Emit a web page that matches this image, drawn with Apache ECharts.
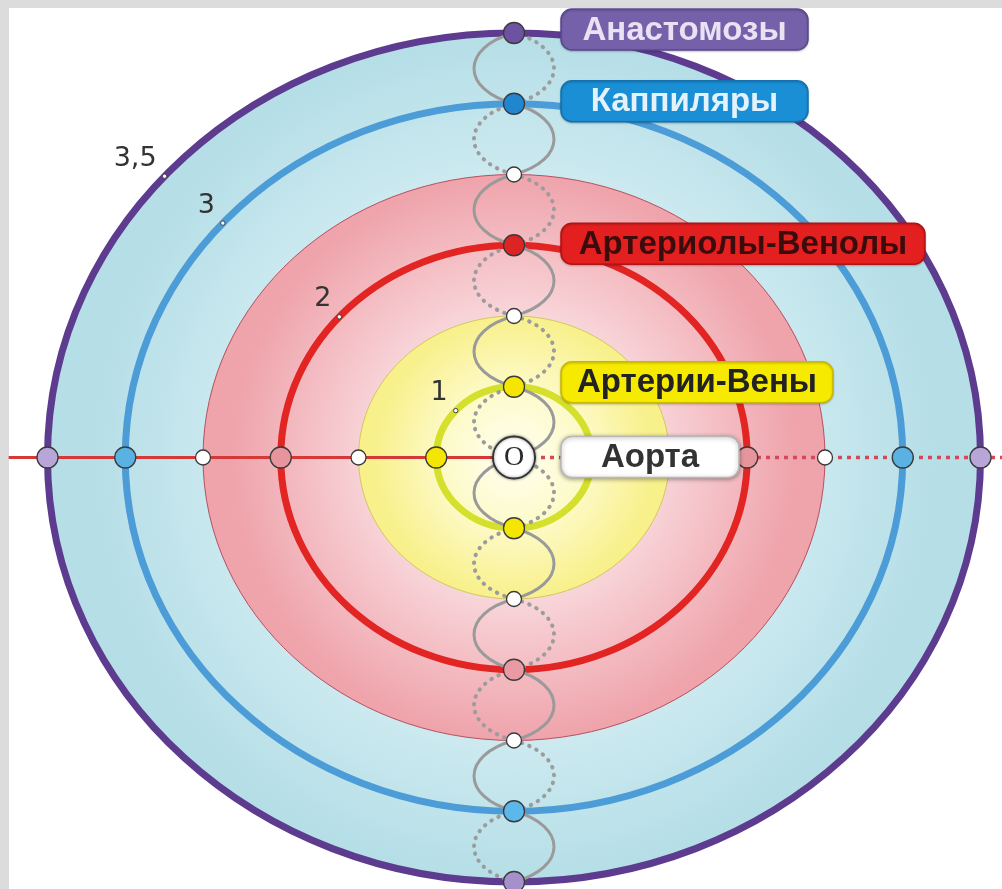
<!DOCTYPE html>
<html><head><meta charset="utf-8">
<script src="https://cdn.jsdelivr.net/npm/echarts@6/dist/echarts.min.js"></script>
<style>html,body{margin:0;padding:0;background:#fff}#c{width:1002px;height:889px}</style>
</head><body><div id="c"></div>
<script>
// ---- data ----
const levelNames  = ['Аорта', 'Артерии-Вены', 'Артериолы-Венолы', 'Каппиляры', 'Анастомозы'];
const levelRadius = [0, 0.5, 1.5, 2.5, 3.0];
const levelTicks  = ['', '1', '2', '3', '3,5'];
const zoneRadius  = [3.0, 2.0, 1.0];
const nodeSteps   = [3, 2.5, 2, 1.5, 1, 0.5, 0, -0.5, -1, -1.5, -2, -2.5, -3];
const axisNodesLeft  = [-3, -2.5, -2, -1.5, -1, -0.5];
const axisNodesRight = [1.5, 2, 2.5, 3];

// ---- styles ----
const zoneStyle = {
  '3': {stops: [[0, '#e4f5f7'], [0.66, '#cdeaf0'], [1, '#b5dee7']], stroke: '#9ccbd6', lw: 0.6},
  '2': {stops: [[0, '#fdf0f2'], [0.5, '#f8d6da'], [1, '#efa3ab']], stroke: '#b65060', lw: 1},
  '1': {stops: [[0, '#fffff2'], [0.5, '#fdfac8'], [1, '#f8f08a']], stroke: '#d2c860', lw: 1}
};
const ringColor = {'0.5': '#d4e02c', '1.5': '#e22422', '2.5': '#4b9cd7', '3': '#5d3b8f'};
const badgeStyle = [
  {w: 178, dy: -21, fill: '#ffffff', stroke: '#b8b8b8', text: '#333333', shadow: true},
  {w: 272, dy: -25, fill: '#f6ea00', stroke: '#c9b800', text: '#222222'},
  {w: 364, dy: -22, fill: '#e41f1f', stroke: '#b01515', text: '#3a0c0c'},
  {w: 247, dy: -23, fill: '#1a8fd6', stroke: '#1570b0', text: '#e4f3fb'},
  {w: 247, dy: -24, fill: '#7560aa', stroke: '#5a4890', text: '#e8e2f3'}
];
function nodeColor(v, where) {
  const a = Math.abs(v);
  if (a === 0.5) return '#f4e600';
  if (a === 1 || a === 2) return '#ffffff';
  const top = {'1.5': '#dd2424', '2.5': '#1f86cf', '3': '#6e52a2'};
  const bot = {'1.5': '#e99aa2', '2.5': '#5cb8ea', '3': '#a590cc'};
  const hor = {'1.5': '#e6959d', '2.5': '#5ab2e2', '3': '#b8a6d8'};
  if (where === 'h') return hor[a];
  return v > 0 ? top[a] : bot[a];
}

const chart = echarts.init(document.getElementById('c'));

// geometry: center px (514,457.5); 155.5 px/unit horizontally, 141.5 px/unit vertically
const XMIN = -3.25, XMAX = 3.25, YMIN = -3.2, YMAX = 3.2;
const grid = {outerBoundsMode: 'none', containLabel: false,
  left: 514 - 3.25 * 155.5, width: 6.5 * 155.5, top: 457.5 - 3.2 * 141.5, height: 6.4 * 141.5};

function ellipseOf(api, r) {
  const c = api.coord([0, 0]);
  const e = api.coord([r, r]);
  return {cx: c[0], cy: c[1], rx: e[0] - c[0], ry: c[1] - e[1]};
}

const nodeData = [];
nodeSteps.forEach(v => {
  if (v === 0) return;
  const col = nodeColor(v, 'v');
  nodeData.push({value: [0, v], symbolSize: col === '#ffffff' ? 15 : 21, itemStyle: {color: col}});
});
axisNodesLeft.concat(axisNodesRight).forEach(v => {
  const col = nodeColor(v, 'h');
  nodeData.push({value: [v, 0], symbolSize: col === '#ffffff' ? 15 : 21, itemStyle: {color: col}});
});

const segments = [];
for (let k = 0; k < nodeSteps.length - 1; k++) segments.push([nodeSteps[k], nodeSteps[k + 1], k]);

const option = {
  animation: false,
  backgroundColor: '#dcdcdc',
  graphic: [{type: 'rect', z: -10, shape: {x: 9, y: 8, width: 1000, height: 890}, style: {fill: '#ffffff'}}],
  grid: grid,
  xAxis: {type: 'value', min: XMIN, max: XMAX, show: false},
  yAxis: {type: 'value', min: YMIN, max: YMAX, show: false},
  series: [
    { // zones
      type: 'custom', z: 1, silent: true,
      data: zoneRadius.map(r => [r]),
      renderItem: function (params, api) {
        const r = api.value(0);
        const e = ellipseOf(api, r);
        const st = zoneStyle[String(r)];
        return {type: 'ellipse', shape: e, style: {
          fill: {type: 'radial', x: 0.5, y: 0.5, r: 0.5, colorStops: st.stops.map(s => ({offset: s[0], color: s[1]}))},
          stroke: st.stroke, lineWidth: st.lw}};
      }
    },
    { // rings
      type: 'custom', z: 2, silent: true,
      data: levelRadius.filter(r => r > 0).map(r => [r]),
      renderItem: function (params, api) {
        const r = api.value(0);
        return {type: 'ellipse', shape: ellipseOf(api, r), style: {fill: 'none', stroke: ringColor[String(r)], lineWidth: 7}};
      }
    },
    { // horizontal axis, solid left
      type: 'line', z: 3, silent: true, symbol: 'none',
      data: [[XMIN, 0], [0, 0]],
      lineStyle: {color: '#d63838', width: 3}
    },
    { // horizontal axis, dotted right
      type: 'line', z: 3, silent: true, symbol: 'none',
      data: [[0, 0], [XMAX, 0]],
      lineStyle: {color: '#d4485a', width: 3.5, type: [4, 5]}
    },
    { // helix
      type: 'custom', z: 4, silent: true,
      data: segments,
      renderItem: function (params, api) {
        const p0 = api.coord([0, api.value(0)]);
        const p1 = api.coord([0, api.value(1)]);
        const side = api.value(2) % 2 === 0 ? -1 : 1;
        const A = 40 * 4 / 3;
        const h = p1[1] - p0[1];
        const t = 0.2 * h;
        function curve(s, dotted) {
          return {type: 'bezierCurve',
            shape: {x1: p0[0], y1: p0[1], cpx1: p0[0] + s * A, cpy1: p0[1] + t, cpx2: p0[0] + s * A, cpy2: p1[1] - t, x2: p1[0], y2: p1[1]},
            style: dotted ? {stroke: '#9c9c9c', fill: 'none', lineWidth: 4, lineDash: [0.5, 7.5], lineCap: 'round'}
                          : {stroke: '#9a9a9a', fill: 'none', lineWidth: 3}};
        }
        return {type: 'group', children: [curve(-side, true), curve(side, false)]};
      }
    },
    { // nodes
      type: 'scatter', z: 5, silent: true,
      data: nodeData,
      itemStyle: {borderColor: '#3a3a3a', borderWidth: 1.3, opacity: 1}
    },
    { // centre O
      type: 'scatter', z: 5, silent: true,
      data: [[0, 0]], symbolSize: 42,
      itemStyle: {color: '#ffffff', opacity: 1, borderColor: '#333333', borderWidth: 1.8, shadowColor: 'rgba(0,0,0,0.45)', shadowBlur: 3},
      label: {show: true, position: 'inside', formatter: 'O', color: '#2a2a2a', fontSize: 28, fontFamily: 'Liberation Serif'}
    },
    { // tick marks + labels on rings
      type: 'custom', z: 6, silent: true,
      data: levelRadius.map((r, i) => [r, i]).filter(d => d[0] > 0),
      renderItem: function (params, api) {
        const r = api.value(0), i = api.value(1);
        const e = ellipseOf(api, r);
        const a = 138.5 * Math.PI / 180;
        const mx = e.cx + e.rx * Math.cos(a), my = e.cy - e.ry * Math.sin(a);
        return {type: 'group', children: [
          {type: 'circle', shape: {cx: mx, cy: my, r: 2.2}, style: {fill: '#ffffff', stroke: '#444', lineWidth: 1}},
          {type: 'text', style: {text: levelTicks[i], x: mx - 8, y: my - 4, align: 'right', verticalAlign: 'bottom',
            fontSize: 27, fontFamily: 'DejaVu Sans', fill: '#333333'}}
        ]};
      }
    },
    { // badges
      type: 'custom', z: 7, silent: true,
      data: levelRadius.map((r, i) => [r, i]),
      renderItem: function (params, api) {
        const r = api.value(0), i = api.value(1);
        const p = api.coord([0, r]);
        const st = badgeStyle[i];
        const x = p[0] + 47, y = p[1] + st.dy, w = st.w, h = 41;
        return {type: 'group', children: [
          {type: 'rect', shape: {x: x, y: y, width: w, height: h, r: 11},
            style: {fill: st.fill, stroke: st.stroke, lineWidth: 1.5,
              shadowColor: st.shadow ? 'rgba(0,0,0,0.35)' : 'rgba(0,0,0,0.2)', shadowBlur: st.shadow ? 4 : 2, shadowOffsetY: 1}},
          {type: 'text', style: {text: levelNames[i], x: x + w / 2, y: y + h / 2 + 1, align: 'center', verticalAlign: 'middle',
            fontSize: 33, fontWeight: 'bold', fontFamily: 'Liberation Sans', fill: st.text}}
        ]};
      }
    }
  ]
};
chart.setOption(option);
</script></body></html>
